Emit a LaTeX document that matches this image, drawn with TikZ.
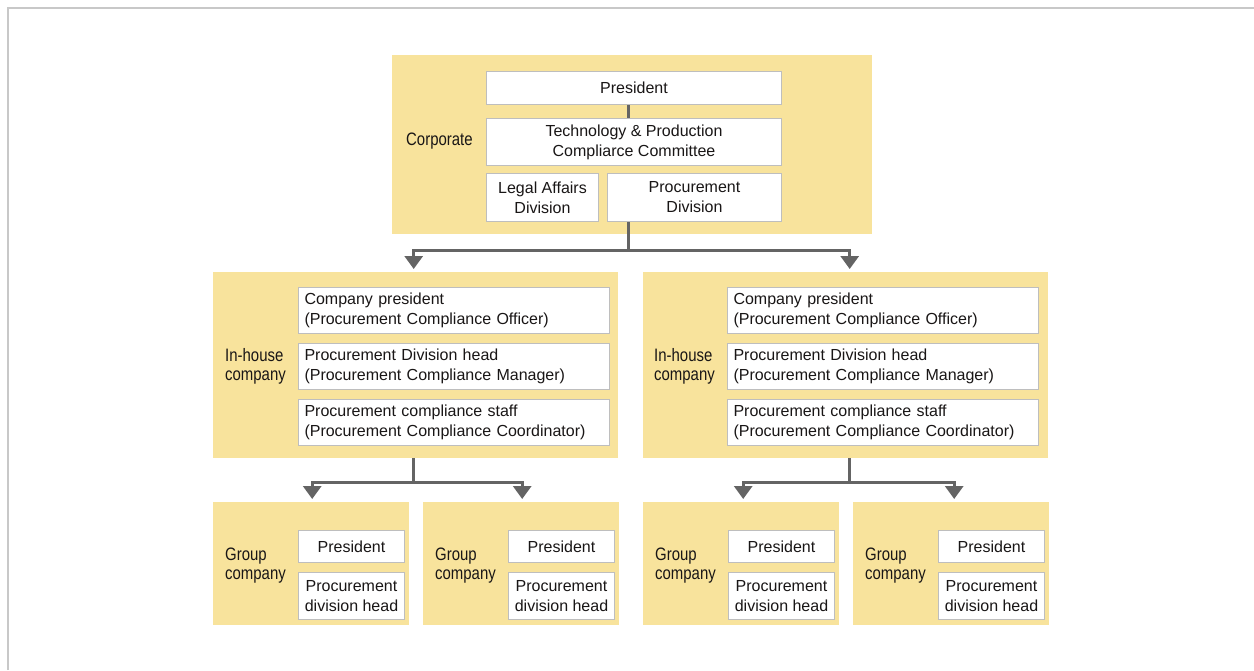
\documentclass[tikz,border=0pt]{standalone}
\usepackage{fontspec}
\setmainfont{Liberation Sans}
\newfontfamily\narrowfont[FakeStretch=0.83]{Liberation Sans}
\usetikzlibrary{arrows.meta}
\definecolor{yel}{RGB}{248,227,156}
\definecolor{bord}{RGB}{190,190,190}
\definecolor{arrc}{RGB}{100,100,100}
\definecolor{txt}{RGB}{25,22,22}
\definecolor{framec}{RGB}{200,200,200}
\begin{document}
\begin{tikzpicture}[x=1pt,y=-1pt,
  ybox/.style={fill=yel,draw=none,anchor=north west,inner sep=0pt},
  wbox/.style={fill=white,draw=bord,line width=1pt,anchor=north west,inner sep=0pt,
     text=txt,font=\fontsize{16}{20}\selectfont,align=center},
  lbox/.style={wbox,align=left,inner xsep=6pt,text width=299pt,minimum height=46pt},
  gpres/.style={wbox,minimum width=106pt,minimum height=32pt},
  gproc/.style={wbox,minimum width=106pt,minimum height=47pt},
  lab/.style={anchor=west,inner sep=0pt,text=txt,align=left,
     font=\narrowfont\fontsize{18}{19}\selectfont},
  conn/.style={draw=arrc,line width=3pt},
  arr/.style={conn,-{Triangle[width=18pt,length=13pt]},shorten >=3pt}
]
\useasboundingbox (0,0) rectangle (1254,670);
\draw[framec,line width=2pt] (7.5,670) -- (7.5,7.5) -- (1254,7.5);

% Corporate
\node[ybox,minimum width=480pt,minimum height=179pt] (corp) at (392,55) {};
\node[wbox,minimum width=295pt,minimum height=33pt] (pres) at (486,71) {President};
\node[wbox,minimum width=295pt,minimum height=47pt] (tech) at (486,118) {Technology \& Production\\Compliarce Committee};
\node[wbox,minimum width=112pt,minimum height=48pt] (legal) at (486,173) {Legal Affairs\\Division};
\node[wbox,minimum width=174pt,minimum height=48pt] (procd) at (607,173) {Procurement\\Division};
\node[lab] (corpL) at (406,141) {Corporate};
\draw[conn] ([xshift=-5.5pt]pres.south) -- ([xshift=-5.5pt]tech.north);

% In-house companies
\node[ybox,minimum width=405pt,minimum height=186pt] (inL) at (213,272) {};
\node[ybox,minimum width=405pt,minimum height=186pt] (inR) at (643,272) {};
\foreach \s/\x in {L/298,R/727}{
  \node[lbox] (cp\s) at (\x,287) {Company president\\(Procurement Compliance Officer)};
  \node[lbox] (pd\s) at (\x,343) {Procurement Division head\\(Procurement Compliance Manager)};
  \node[lbox] (cs\s) at (\x,399) {Procurement compliance staff\\(Procurement Compliance Coordinator)};
}
\node[lab] (inLL) at (225,366) {In-house\\company};
\node[lab] (inRL) at (654,366) {In-house\\company};

% Group companies
\foreach \n/\x in {1/213,2/423,3/643,4/853}{
  \node[ybox,minimum width=196pt,minimum height=123pt] (g\n) at (\x,502) {};
  \node[gpres] (gp\n) at (\x+85,530) {President};
  \node[gproc] (gd\n) at (\x+85,572) {Procurement\\division head};
  \node[lab] (gl\n) at (\x+12,566) {Group\\company};
}

% Connectors
\draw[conn] ([xshift=21pt]procd.south west) -- ++(0,28) coordinate (hc);
\draw[arr] (hc) -| ([xshift=-2pt]inL.north);
\draw[arr] (hc) -| ([xshift=4pt]inR.north);

\draw[conn] ([xshift=-2pt]inL.south) -- ++(0,24) coordinate (hl);
\draw[arr] (hl) -| ([xshift=1pt]g1.north);
\draw[arr] (hl) -| ([xshift=1pt]g2.north);
\draw[conn] ([xshift=4pt]inR.south) -- ++(0,24) coordinate (hr);
\draw[arr] (hr) -| ([xshift=2pt]g3.north);
\draw[arr] (hr) -| ([xshift=3pt]g4.north);
\end{tikzpicture}
\end{document}
